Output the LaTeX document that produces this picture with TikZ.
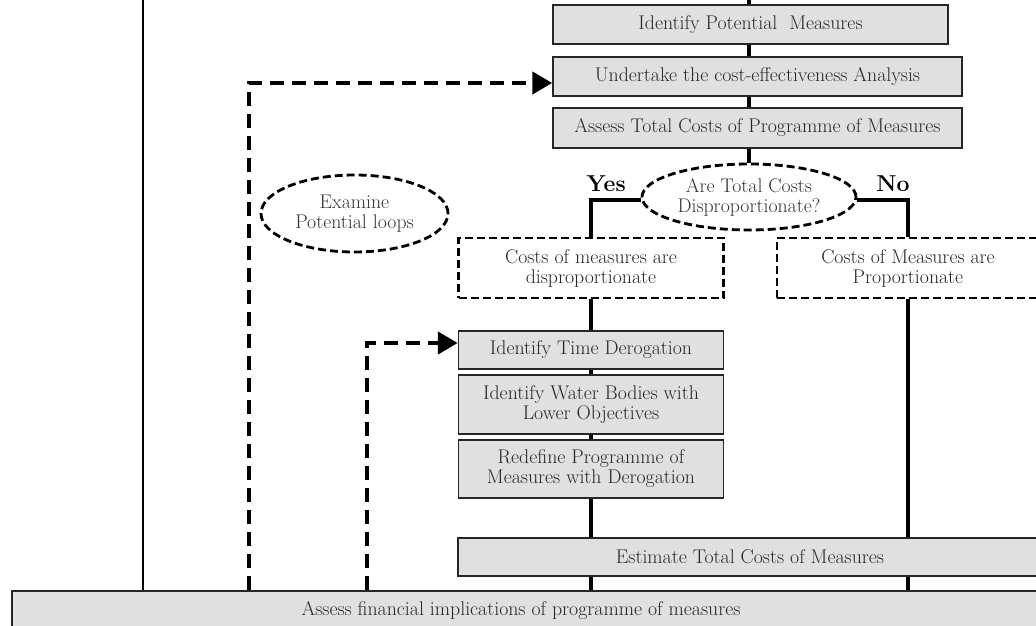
\documentclass[tikz,border=0pt]{standalone}
\usetikzlibrary{shapes.geometric,arrows.meta}

\tikzset{
  box/.style={draw=black!85, line width=1.5pt, fill=black!12, text=black!85, inner sep=0pt, align=center},
  dbox/.style={draw=black, line width=2.8pt, dash pattern=on 8pt off 4pt, fill=white, text=black!85, inner sep=0pt, align=center},
  dell/.style={ellipse, draw=black, line width=2.8pt, dash pattern=on 8pt off 4pt, fill=white, text=black!80, inner sep=0pt, align=center},
  conn/.style={line width=3.5pt},
  loopline/.style={line width=4.5pt, dash pattern=on 14pt off 8pt, -{Triangle[length=20pt,width=22pt]}},
  answer/.style={font=\fontsize{23}{26}\selectfont\bfseries}
}

\begin{document}
\begin{tikzpicture}[x=1pt, y=-1pt, font=\fontsize{19.8}{20}\selectfont, line join=miter]
\useasboundingbox (0,0) rectangle (1036,626);
\clip (0,0) rectangle (1036,626);

% rails that come in from above
\coordinate (spine) at (749,-5);
\coordinate (rail) at (143,-5);
\coordinate (loopa) at (249,0);
\coordinate (loopb) at (367,0);

% upper chain
\node[box, minimum width=395pt, minimum height=39pt] (pot) at (750.5,24.5) {Identify Potential\ \ Measures};
\node[box, minimum width=409pt, minimum height=39pt] (cea) at (757.5,76.5) {Undertake the cost-effectiveness Analysis};
\node[box, minimum width=409pt, minimum height=40pt] (atc) at (757.5,128) {Assess Total Costs of Programme of Measures};
\node[dell, minimum width=214pt, minimum height=66pt] (q) at (749,197) {Are Total Costs\\Disproportionate?};
\node[answer] (yes) at (606,184) {Yes};
\node[answer] (no) at (893,184) {No};

% the two outcomes
\node[dbox, minimum width=265pt, minimum height=60pt] (disp) at (591,268) {Costs of measures are\\disproportionate};
\node[dbox, minimum width=262pt, minimum height=60pt] (prop) at (908,268) {Costs of Measures are\\Proportionate};
\node[dell, minimum width=187pt, minimum height=77pt] (loops) at (354.5,213.5) {Examine\\Potential loops};

% derogation chain
\node[box, minimum width=265pt, minimum height=38pt] (itd) at (591,350) {Identify Time Derogation};
\node[box, minimum width=265pt, minimum height=59pt] (wat) at (591,404.5) {Identify Water Bodies with\\Lower Objectives};
\node[box, minimum width=265pt, minimum height=58pt] (red) at (591,469) {Redefine Programme of\\Measures with Derogation};
\node[box, minimum width=584pt, minimum height=38pt] (est) at (750,557) {Estimate Total Costs of Measures};
\node[box, minimum width=1026pt, minimum height=50pt, text depth=0pt] (bot) at (525,616) {};
\node[text=black!85] (botlbl) at (521,611) {Assess financial implications of programme of measures};

% connectors
\draw[conn] (spine) -- (spine |- pot.north);
\draw[conn] (pot.south -| spine) -- (cea.north -| spine);
\draw[conn] (cea.south -| spine) -- (atc.north -| spine);
\draw[conn] (atc.south -| spine) -- (q.north);
\draw[conn] ([yshift=-3pt]q.west) -| (disp.north);
\draw[conn] ([yshift=-3pt]q.east) -| (prop.north);
\draw[conn] (disp.south) -- (itd.north);
\draw[conn] (itd.south) -- (wat.north);
\draw[conn] (wat.south) -- (red.north);
\draw[conn] (red.south) -- (red.south |- est.north);
\draw[conn] (prop.south) -- (prop.south |- est.north);
\draw[conn] (est.south -| red) -- (bot.north -| red);
\draw[conn] (est.south -| prop) -- (bot.north -| prop);
\draw[line width=2.5pt] (rail) -- (rail |- bot.north);

% loops back
\draw[loopline] (bot.north -| loopa) |- ([yshift=-6.5pt]cea.west);
\draw[loopline] (bot.north -| loopb) |- ([yshift=7pt]itd.west);
\end{tikzpicture}
\end{document}
